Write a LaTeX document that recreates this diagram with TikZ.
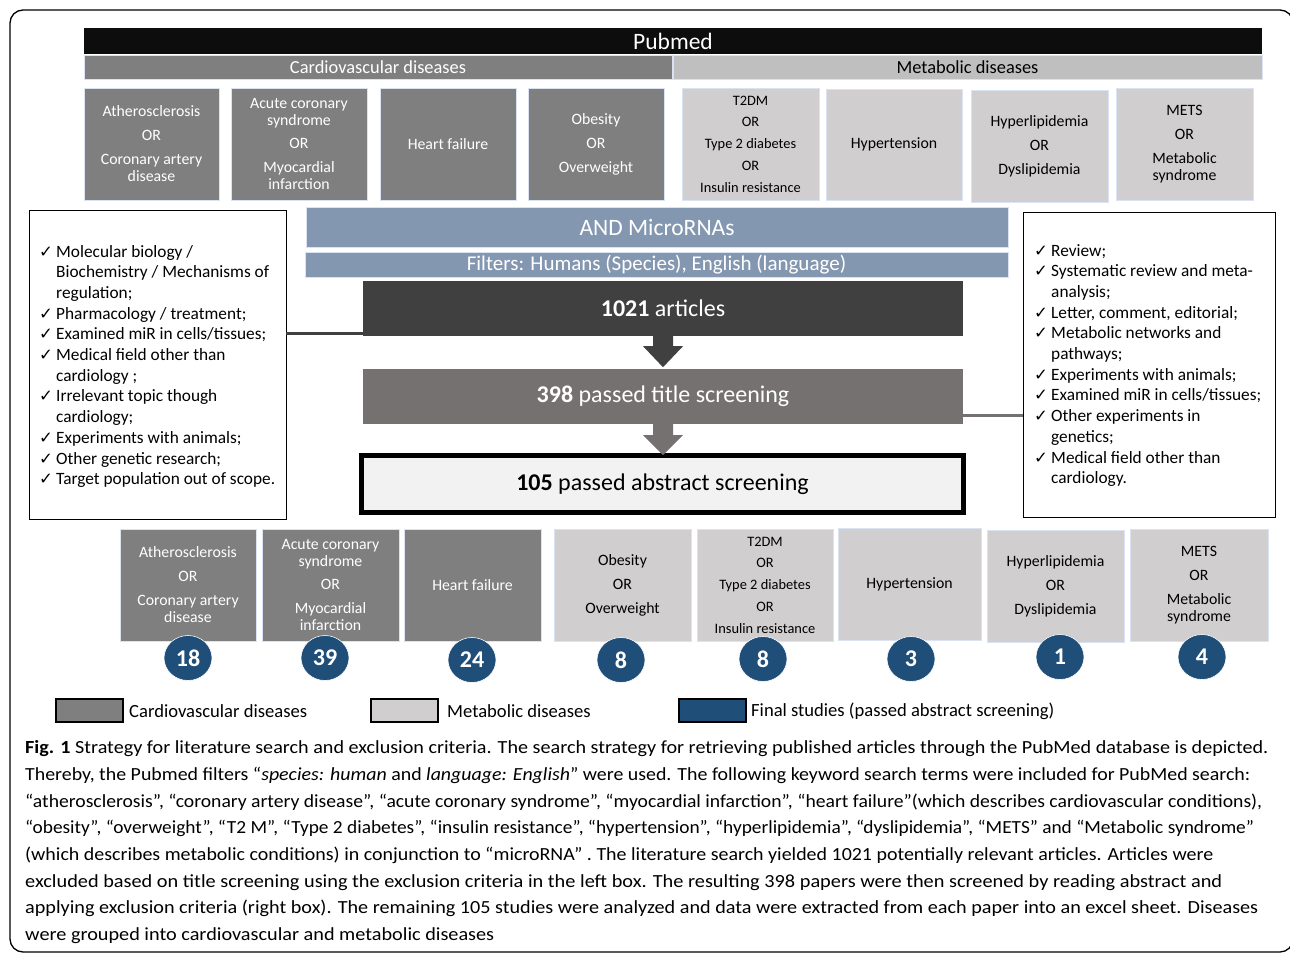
\documentclass[tikz,border=0pt]{standalone}
\usepackage{fontspec}
\usepackage{graphicx}
\setmainfont{Carlito}
\newfontfamily\dejavu{DejaVu Sans}
\usetikzlibrary{shapes.geometric,calc}
\definecolor{cvg}{HTML}{7F7F7F}
\definecolor{mdg}{HTML}{D0CECE}
\definecolor{mbar}{HTML}{BFBFBF}
\definecolor{blu}{HTML}{8497B0}
\definecolor{dk}{HTML}{404040}
\definecolor{md}{HTML}{767171}
\definecolor{lt}{HTML}{F2F2F2}
\definecolor{nav}{HTML}{1F4E79}
\definecolor{edge}{HTML}{DAE3F3}
\definecolor{pub}{HTML}{0D0D0D}
\newcommand\ck{\makebox[17pt][l]{\dejavu\fontsize{16.5}{16}\selectfont ✓}}
\newcommand\bxf{\fontsize{15.8}{17}\selectfont}
\newcommand\bxs{\fontsize{14.4}{21.8}\selectfont}
\newcommand\lstf{\fontsize{17.3}{20.7}\selectfont}
\newcommand\capf{\fontsize{18.5}{26.7}\selectfont}
\begin{document}
\begin{tikzpicture}[x=1pt,y=-1pt,
  cvbox/.style={fill=cvg, draw=edge, line width=0.6pt, text=white, inner sep=0pt, align=center, font=\bxf, minimum height=112},
  mdbox/.style={fill=mdg, draw=edge, line width=0.6pt, text=black, inner sep=0pt, align=center, font=\bxf, minimum height=112},
  bar/.style={draw=edge, line width=0.6pt, inner sep=0pt},
  center/.style={inner sep=0pt, text=white, font=\fontsize{24}{26}\selectfont},
  num/.style={ellipse, fill=nav, draw=white, line width=0.6pt, text=white, inner sep=0pt, minimum width=48, minimum height=45, font=\bfseries\fontsize{24}{24}\selectfont},
  crit/.style={draw=black, line width=0.8pt, fill=white, inner sep=0pt},
  leg/.style={draw=black, line width=1.6pt, inner sep=0pt, minimum width=67, minimum height=23},
  legt/.style={anchor=west, inner sep=0pt, font=\fontsize{18.6}{21}\selectfont},
  capl/.style={anchor=base west, inner sep=0pt, font=\capf}
]
\useasboundingbox (0,0) rectangle (1290,953);
\draw[line width=1.3pt, rounded corners=13] (10,10) rectangle (1293,952);

% header bars
\node[fill=pub, inner sep=0pt, minimum width=1178, minimum height=26, text=white, font=\fontsize{23.5}{24}\selectfont] (pubmed) at (673,41) {Pubmed};
\node[bar, fill=cvg, minimum width=588, minimum height=24, text=white, font=\fontsize{18.4}{20}\selectfont] (cvbar) at (378,67) {Cardiovascular diseases};
\node[bar, fill=mbar, minimum width=589, minimum height=24, text=black, font=\fontsize{18.4}{20}\selectfont] (mdbar) at (967.5,67) {Metabolic diseases};

% top disease boxes
\node[cvbox, minimum width=135] (t1) at (151.5,144) {Atherosclerosis\\[7pt]OR\\[7pt]Coronary artery\\disease};
\node[cvbox, minimum width=136] (t2) at (299,144) {Acute coronary\\syndrome\\[6pt]OR\\[7pt]Myocardial\\infarction};
\node[cvbox, minimum width=136] (t3) at (448,144) {Heart failure};
\node[cvbox, minimum width=136] (t4) at (596,144) {Obesity\\[7pt]OR\\[7pt]Overweight};
\node[mdbox, minimum width=137, font=\bxs] (t5) at (750.5,144) {T2DM\\OR\\Type 2 diabetes\\OR\\Insulin resistance};
\node[mdbox, minimum width=136, minimum height=111] (t6) at (894,144.5) {Hypertension};
\node[mdbox, minimum width=137] (t7) at (1039.5,146) {Hyperlipidemia\\[7pt]OR\\[7pt]Dyslipidemia};
\node[mdbox, minimum width=137] (t8) at (1184.5,144) {METS\\[7pt]OR\\[7pt]Metabolic\\syndrome};

% search bars
\node[bar, fill=blu, minimum width=702, minimum height=40, text=white, font=\fontsize{23.5}{24}\selectfont] (mirna) at (657,227) {AND MicroRNAs};
\node[bar, fill=blu, minimum width=703, minimum height=25, text=white, font=\fontsize{21}{22}\selectfont] (filt) at (656.5,264.5) {Filters: Humans (Species), English (language)};

% flow boxes
\node[center, fill=dk, minimum width=600, minimum height=55] (c1) at (663,308.5) {\textbf{1021} articles};
\node[center, fill=md, minimum width=600, minimum height=55] (c2) at (663,396.5) {\textbf{398} passed title screening};
\node[center, fill=lt, draw=black, line width=5pt, text=black, minimum width=602, minimum height=57] (c3) at (662.5,484) {\textbf{105} passed abstract screening};

\fill[dk, shift={(c1.south)}] (-10,0) -- (10,0) -- (10,10) -- (20,10) -- (0,31) -- (-20,10) -- (-10,10) -- cycle;
\fill[md, shift={(c2.south)}] (-10,0) -- (10,0) -- (10,11) -- (20,11) -- (0,31) -- (-20,11) -- (-10,11) -- cycle;

% criteria boxes
\node[crit, minimum width=257, minimum height=309] (lbox) at (157.5,364.5) {};
\node[crit, minimum width=252, minimum height=305] (rbox) at (1149,364.5) {};
\coordinate (yl) at (0,333);
\coordinate (yr) at (0,415);
\draw[dk, line width=3pt] (c1.west |- yl) -- (lbox.east |- yl);
\draw[md, line width=3pt] (c2.east |- yr) -- (rbox.west |- yr);

\node[anchor=base west, inner sep=0pt, font=\lstf] (ltext) at (39,257) {\begin{tabular}[t]{@{}l@{}l@{}}
\ck & Molecular biology /\\
 & Biochemistry / Mechanisms of\\
 & regulation;\\
\ck & Pharmacology / treatment;\\
\ck & Examined miR in cells/tissues;\\
\ck & Medical field other than\\
 & cardiology ;\\
\ck & Irrelevant topic though\\
 & cardiology;\\
\ck & Experiments with animals;\\
\ck & Other genetic research;\\
\ck & Target population out of scope.
\end{tabular}};

\node[anchor=base west, inner sep=0pt, font=\lstf] (rtext) at (1034,256) {\begin{tabular}[t]{@{}l@{}l@{}}
\ck & Review;\\
\ck & Systematic review and meta-\\
 & analysis;\\
\ck & Letter, comment, editorial;\\
\ck & Metabolic networks and\\
 & pathways;\\
\ck & Experiments with animals;\\
\ck & Examined miR in cells/tissues;\\
\ck & Other experiments in\\
 & genetics;\\
\ck & Medical field other than\\
 & cardiology.
\end{tabular}};

% bottom disease boxes
\node[cvbox, minimum width=136] (b1) at (188,585) {Atherosclerosis\\[7pt]OR\\[7pt]Coronary artery\\disease};
\node[cvbox, minimum width=137] (b2) at (330.5,585) {Acute coronary\\syndrome\\[6pt]OR\\[7pt]Myocardial\\infarction};
\node[cvbox, minimum width=137] (b3) at (472.5,585) {Heart failure};
\node[mdbox, minimum width=137] (b4) at (622.5,585) {Obesity\\[7pt]OR\\[7pt]Overweight};
\node[mdbox, minimum width=136, font=\bxs] (b5) at (765,585) {T2DM\\OR\\Type 2 diabetes\\OR\\Insulin resistance};
\node[mdbox, minimum width=143] (b6) at (909.5,584) {Hypertension};
\node[mdbox, minimum width=137] (b7) at (1055.5,586) {Hyperlipidemia\\[7pt]OR\\[7pt]Dyslipidemia};
\node[mdbox, minimum width=138] (b8) at (1199,585) {METS\\[7pt]OR\\[7pt]Metabolic\\syndrome};

% counts
\node[num] (n1) at (188,658) {18};
\node[num] (n2) at (325,658) {39};
\node[num] (n3) at (472,660) {24};
\node[num] (n4) at (621,660) {8};
\node[num] (n5) at (763,659) {8};
\node[num] (n6) at (911,659) {3};
\node[num] (n7) at (1060,657) {1};
\node[num] (n8) at (1202,657) {4};

% legend
\node[leg, fill=cvg] (l1) at (89.5,710.5) {};
\node[legt] (l1t) at (129,711) {Cardiovascular diseases};
\node[leg, fill=mdg] (l2) at (404.5,710.5) {};
\node[legt] (l2t) at (447,711) {Metabolic diseases};
\node[leg, fill=nav] (l3) at (712.5,710.5) {};
\node[legt] (l3t) at (751,711) {Final studies (passed abstract screening)};

% caption
\node[capl] (cap1) at (25,753) {\resizebox{1243pt}{\height}{\textbf{Fig. 1} Strategy for literature search and exclusion criteria. The search strategy for retrieving published articles through the PubMed database is depicted.}};
\node[capl] (cap2) at (25,780) {\resizebox{1225pt}{\height}{Thereby, the Pubmed filters “\textit{species: human} and \textit{language: English}” were used. The following keyword search terms were included for PubMed search:}};
\node[capl] (cap3) at (25,807) {\resizebox{1237pt}{\height}{“atherosclerosis”, “coronary artery disease”, “acute coronary syndrome”, “myocardial infarction”, “heart failure”(which describes cardiovascular conditions),}};
\node[capl] (cap4) at (25,833) {\resizebox{1229pt}{\height}{“obesity”, “overweight”, “T2 M”, “Type 2 diabetes”, “insulin resistance”, “hypertension”, “hyperlipidemia”, “dyslipidemia”, “METS” and “Metabolic syndrome”}};
\node[capl] (cap5) at (25,860) {\resizebox{1188pt}{\height}{(which describes metabolic conditions) in conjunction to “microRNA” . The literature search yielded 1021 potentially relevant articles. Articles were}};
\node[capl] (cap6) at (25,887) {\resizebox{1197pt}{\height}{excluded based on title screening using the exclusion criteria in the left box. The resulting 398 papers were then screened by reading abstract and}};
\node[capl] (cap7) at (25,913) {\resizebox{1233pt}{\height}{applying exclusion criteria (right box). The remaining 105 studies were analyzed and data were extracted from each paper into an excel sheet. Diseases}};
\node[capl] (cap8) at (25,940) {\resizebox{469pt}{\height}{were grouped into cardiovascular and metabolic diseases}};
\end{tikzpicture}
\end{document}
